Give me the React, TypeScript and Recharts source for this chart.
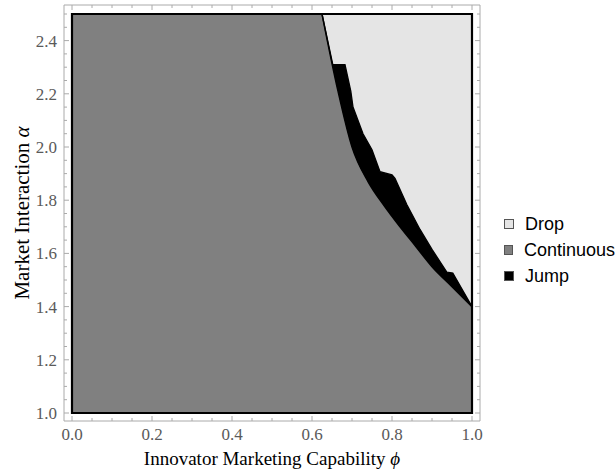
import React from 'react';
import { ComposedChart, Area, Line, XAxis, YAxis, Legend, ReferenceArea } from 'recharts';

// ---- tick values ----
const phiTicks = [0, 0.05, 0.1, 0.15, 0.2, 0.25, 0.3, 0.35, 0.4, 0.45, 0.5, 0.55, 0.6, 0.65, 0.7, 0.75, 0.8, 0.85, 0.9, 0.95, 1.0];
const phiMajorTicks = [0, 0.2, 0.4, 0.6, 0.8, 1.0];
const alphaTicks = [1.0, 1.05, 1.1, 1.15, 1.2, 1.25, 1.3, 1.35, 1.4, 1.45, 1.5, 1.55, 1.6, 1.65, 1.7, 1.75, 1.8, 1.85, 1.9, 1.95, 2.0, 2.05, 2.1, 2.15, 2.2, 2.25, 2.3, 2.35, 2.4, 2.45, 2.5];
const alphaMajorTicks = [1.0, 1.2, 1.4, 1.6, 1.8, 2.0, 2.2, 2.4];

const phiDomain = [0, 1];
const alphaDomain = [1, 2.5];

// ---- region boundaries ----
// upper edge of the "Continuous" region (continuous / jump boundary)
const continuousEdgePhi = [0.625, 0.665, 0.70, 0.74, 0.78, 0.82, 0.86, 0.90, 0.95, 1.0];
const continuousEdgeAlpha = [2.5, 2.21, 2.0, 1.87, 1.78, 1.70, 1.625, 1.55, 1.475, 1.40];

// lower edge of the "Drop" region (jump / drop boundary)
const dropEdgePhi = [0.625, 0.652, 0.6825, 0.697, 0.7025, 0.7275, 0.75, 0.77, 0.80, 0.8075, 0.837, 0.87, 0.90, 0.937, 0.952, 1.0];
const dropEdgeAlpha = [2.5, 2.31, 2.31, 2.21, 2.15, 2.05, 1.99, 1.907, 1.895, 1.882, 1.784, 1.69, 1.615, 1.53, 1.526, 1.40];

// ---- legend ----
const legendLabels = ['Drop', 'Continuous', 'Jump'];
const legendColors = ['#e5e5e5', '#808080', '#000000'];

const COLOR_DROP = '#e5e5e5';
const COLOR_CONT = '#808080';
const COLOR_JUMP = '#000000';
const FRAME = '#aaaaaa';
const LABEL = '#5a5a5a';
const SERIF = '"Liberation Serif", "Times New Roman", serif';
const SANS = '"Liberation Sans", Arial, sans-serif';

const backgroundData = [
  { phi: phiDomain[0], band: [alphaDomain[0], alphaDomain[1]] },
  { phi: phiDomain[1], band: [alphaDomain[0], alphaDomain[1]] },
];
const jumpData = continuousEdgePhi.map((p, i) => ({ phi: p, band: [continuousEdgeAlpha[i], alphaDomain[1]], alpha: continuousEdgeAlpha[i] }));
const dropData = dropEdgePhi.map((p, i) => ({ phi: p, band: [dropEdgeAlpha[i], alphaDomain[1]] }));

const isMajor = (v: number, majors: number[]) => majors.some((m) => Math.abs(m - v) < 1e-6);

const BottomTick = (props: any) => {
  const { x, y, payload } = props;
  const major = isMajor(payload.value, phiMajorTicks);
  return (
    <g>
      <line x1={x} x2={x} y1={y} y2={y - (major ? 5 : 3)} stroke={FRAME} strokeWidth={1} />
      {major && (
        <text x={x} y={y + 19} textAnchor="middle" fontFamily={SERIF} fontSize={17} fill={LABEL}>
          {payload.value.toFixed(1)}
        </text>
      )}
    </g>
  );
};

const TopTick = (props: any) => {
  const { x, y, payload } = props;
  const major = isMajor(payload.value, phiMajorTicks);
  return <line x1={x} x2={x} y1={y} y2={y + (major ? 5 : 3)} stroke={FRAME} strokeWidth={1} />;
};

const LeftTick = (props: any) => {
  const { x, y, payload } = props;
  const major = isMajor(payload.value, alphaMajorTicks);
  return (
    <g>
      <line x1={x} x2={x + (major ? 5 : 3)} y1={y} y2={y} stroke={FRAME} strokeWidth={1} />
      {major && (
        <text x={x - 7} y={y + 6} textAnchor="end" fontFamily={SERIF} fontSize={17} fill={LABEL}>
          {payload.value.toFixed(1)}
        </text>
      )}
    </g>
  );
};

const RightTick = (props: any) => {
  const { x, y, payload } = props;
  const major = isMajor(payload.value, alphaMajorTicks);
  return <line x1={x} x2={x - (major ? 5 : 3)} y1={y} y2={y} stroke={FRAME} strokeWidth={1} />;
};

const XTitle = (props: any) => {
  const vb = props.viewBox || { x: 64, y: 421, width: 416, height: 0 };
  const cx = vb.x + vb.width / 2;
  const y = vb.y + 44;
  return (
    <text x={cx} y={y} textAnchor="middle" fontFamily={SERIF} fontSize={19} fill="#000">
      Innovator Marketing Capability <tspan fontStyle="italic">ϕ</tspan>
    </text>
  );
};

const YTitle = (props: any) => {
  const vb = props.viewBox || { x: 0, y: 5, width: 64, height: 416 };
  const cx = vb.x + 29;
  const cy = vb.y + vb.height / 2;
  return (
    <text x={cx} y={cy} transform={`rotate(-90 ${cx} ${cy})`} textAnchor="middle" fontFamily={SERIF} fontSize={21} fill="#000">
      Market Interaction <tspan fontStyle="italic">α</tspan>
    </text>
  );
};

const renderLegend = () => (
  <div style={{ fontFamily: SANS, fontSize: 18, color: '#000' }}>
    {legendLabels.map((lab, i) => (
      <div key={lab} style={{ display: 'flex', alignItems: 'center', height: 26, whiteSpace: 'nowrap' }}>
        <span
          style={{
            display: 'inline-block',
            boxSizing: 'border-box',
            width: 10,
            height: 10,
            marginLeft: 4,
            marginRight: 11,
            background: legendColors[i],
            border: '1px solid #555',
          }}
        />
        <span>{lab}</span>
      </div>
    ))}
  </div>
);

export default function App() {
  return (
    <div style={{ position: 'absolute', left: 0, top: 0 }}>
      <ComposedChart width={615} height={471} margin={{ top: 4, right: 134, bottom: 49, left: 0 }}>
        <XAxis
          xAxisId="b"
          dataKey="phi"
          type="number"
          orientation="bottom"
          domain={phiDomain}
          ticks={phiTicks}
          interval={0}
          height={1}
          padding={{ left: 8, right: 8 }}
          tickSize={0}
          tickMargin={0}
          tickLine={false}
          axisLine={{ stroke: FRAME, strokeWidth: 1 }}
          tick={BottomTick}
          label={XTitle}
          allowDataOverflow
        />
        <XAxis
          xAxisId="t"
          dataKey="phi"
          type="number"
          orientation="top"
          domain={phiDomain}
          ticks={phiTicks}
          interval={0}
          height={1}
          padding={{ left: 8, right: 8 }}
          tickSize={0}
          tickMargin={0}
          tickLine={false}
          axisLine={{ stroke: FRAME, strokeWidth: 1 }}
          tick={TopTick}
          allowDataOverflow
        />
        <YAxis
          yAxisId="l"
          type="number"
          orientation="left"
          domain={alphaDomain}
          ticks={alphaTicks}
          interval={0}
          width={64}
          padding={{ top: 9, bottom: 8 }}
          tickSize={0}
          tickMargin={0}
          tickLine={false}
          axisLine={{ stroke: FRAME, strokeWidth: 1 }}
          tick={LeftTick}
          label={YTitle}
          allowDataOverflow
        />
        <YAxis
          yAxisId="r"
          type="number"
          orientation="right"
          domain={alphaDomain}
          ticks={alphaTicks}
          interval={0}
          width={1}
          padding={{ top: 9, bottom: 8 }}
          tickSize={0}
          tickMargin={0}
          tickLine={false}
          axisLine={{ stroke: FRAME, strokeWidth: 1 }}
          tick={RightTick}
          allowDataOverflow
        />
        <Area
          xAxisId="b"
          yAxisId="l"
          data={backgroundData}
          dataKey="band"
          type="linear"
          fill={COLOR_CONT}
          fillOpacity={1}
          stroke="none"
          name="Continuous"
          isAnimationActive={false}
          activeDot={false}
        />
        <Area
          xAxisId="b"
          yAxisId="l"
          data={jumpData}
          dataKey="band"
          type="monotoneX"
          fill={COLOR_JUMP}
          fillOpacity={1}
          stroke="none"
          name="Jump"
          isAnimationActive={false}
          activeDot={false}
        />
        <Area
          xAxisId="b"
          yAxisId="l"
          data={dropData}
          dataKey="band"
          type="linear"
          fill={COLOR_DROP}
          fillOpacity={1}
          stroke="#000"
          strokeWidth={1.3}
          name="Drop"
          isAnimationActive={false}
          activeDot={false}
        />
        <Line
          xAxisId="b"
          yAxisId="l"
          data={jumpData}
          dataKey="alpha"
          name="edge"
          type="monotoneX"
          stroke="#000"
          strokeWidth={1.5}
          dot={false}
          activeDot={false}
          isAnimationActive={false}
        />
        <ReferenceArea
          xAxisId="b"
          yAxisId="l"
          x1={phiDomain[0]}
          x2={phiDomain[1]}
          y1={alphaDomain[0]}
          y2={alphaDomain[1]}
          fill="none"
          fillOpacity={0}
          stroke="#000"
          strokeWidth={2.2}
          ifOverflow="visible"
          {...({ zIndex: 1000 } as any)}
        />
        <Legend
          layout="vertical"
          align="center"
          verticalAlign="middle"
          content={renderLegend}
          wrapperStyle={{ position: 'absolute', left: 500, top: 211, width: 115 }}
        />
      </ComposedChart>
    </div>
  );
}
